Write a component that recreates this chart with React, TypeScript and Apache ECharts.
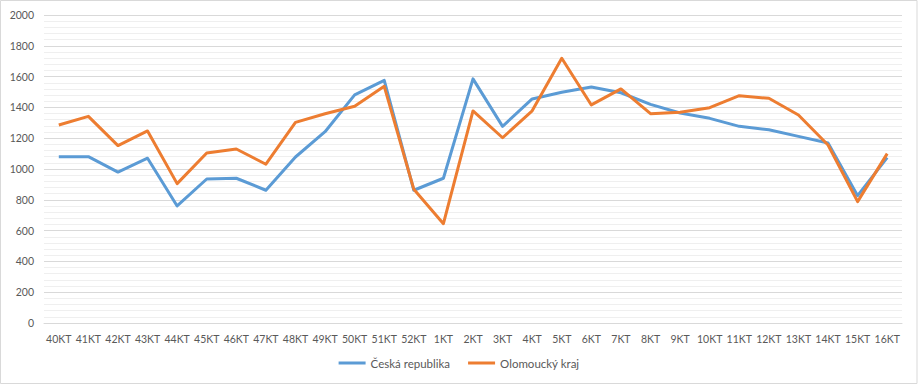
import React, { useEffect, useRef } from "react";
import * as echarts from "echarts";

const categories = [
  "40KT", "41KT", "42KT", "43KT", "44KT", "45KT", "46KT", "47KT", "48KT", "49KT",
  "50KT", "51KT", "52KT", "1KT", "2KT", "3KT", "4KT", "5KT", "6KT", "7KT",
  "8KT", "9KT", "10KT", "11KT", "12KT", "13KT", "14KT", "15KT", "16KT",
];

const ceskaRepublika = [
  1080, 1080, 980, 1070, 760, 935, 940, 862, 1078, 1242,
  1481, 1576, 862, 940, 1585, 1277, 1455, 1498, 1533, 1495,
  1420, 1364, 1329, 1277, 1255, 1212, 1169, 827, 1074,
];

const olomouckyKraj = [
  1286, 1342, 1152, 1247, 905, 1104, 1130, 1031, 1303, 1359,
  1407, 1537, 868, 645, 1377, 1203, 1378, 1719, 1416, 1520,
  1359, 1368, 1398, 1476, 1459, 1351, 1156, 788, 1100,
];

const seriesNames = ["Česká republika", "Olomoucký kraj"];
const FONT = "Lato, 'Open Sans', sans-serif";

export default function App() {
  const ref = useRef<HTMLDivElement>(null);

  useEffect(() => {
    document.body.style.margin = "0";
    if (!ref.current) return;
    const chart = echarts.init(ref.current, undefined, { renderer: "svg" });
    chart.setOption({
      animation: false,
      backgroundColor: "#ffffff",
      textStyle: { fontFamily: FONT },
      graphic: [
        {
          type: "rect",
          shape: { x: 0.5, y: 0.5, width: 916.5, height: 383 },
          style: { fill: "none", stroke: "#d9d9d9", lineWidth: 1 },
          silent: true,
        },
      ],
      grid: { left: 44, right: 16, top: 15, bottom: 62 },
      legend: {
        bottom: 11,
        left: "center",
        icon: "rect",
        itemWidth: 27,
        itemHeight: 3,
        itemGap: 18,
        textStyle: { color: "#595959", fontSize: 11.5, fontFamily: FONT },
        data: seriesNames,
      },
      xAxis: {
        type: "category",
        data: categories,
        boundaryGap: true,
        axisTick: { show: false },
        axisLine: { lineStyle: { color: "#d9d9d9", width: 1 } },
        axisLabel: {
          color: "#595959",
          fontSize: 10.5,
          margin: 10,
          interval: 0,
          fontFamily: FONT,
        },
      },
      yAxis: {
        type: "value",
        min: 0,
        max: 2000,
        interval: 200,
        axisLine: { show: false },
        axisTick: { show: false },
        axisLabel: {
          color: "#595959",
          fontSize: 10.5,
          margin: 10,
          fontFamily: FONT,
          formatter: (v: number) => String(v),
        },
        splitLine: { lineStyle: { color: "#d9d9d9", width: 1 } },
        minorTick: { show: false, splitNumber: 5 },
        minorSplitLine: { show: true, lineStyle: { color: "#efefef", width: 1 } },
      },
      series: [
        {
          name: seriesNames[0],
          type: "line",
          data: ceskaRepublika,
          symbol: "none",
          color: "#5B9BD5",
          lineStyle: { width: 3, color: "#5B9BD5", join: "round" },
        },
        {
          name: seriesNames[1],
          type: "line",
          data: olomouckyKraj,
          symbol: "none",
          color: "#ED7D31",
          lineStyle: { width: 3, color: "#ED7D31", join: "round" },
        },
      ],
    });
    return () => chart.dispose();
  }, []);

  return <div ref={ref} style={{ width: 918, height: 385 }} />;
}
